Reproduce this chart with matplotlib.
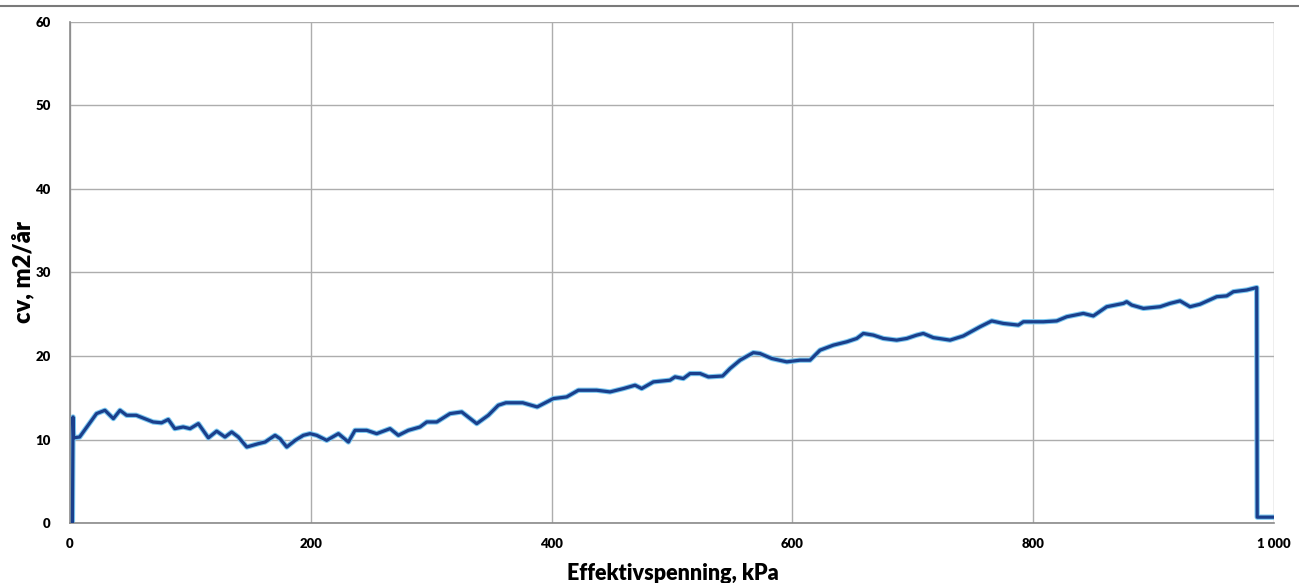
import matplotlib.pyplot as plt
from matplotlib.lines import Line2D

# cv vs effective stress
stress_kpa = [2, 2.5, 3, 8, 15, 22, 29, 36, 41.5, 47, 55, 62, 69, 76, 81.6,
              87, 94, 99.7, 106.6, 114.9, 121.8, 128.7, 134.3, 139.8, 146.8,
              156.4, 162, 170.3, 174.4, 180, 187, 193.8, 199.3, 204.9, 213.2,
              222.9, 231.2, 236.7, 246.4, 254.7, 265.8, 272.7, 281, 290.7,
              296.3, 304.6, 315.6, 325.3, 337.8, 347.4, 355.7, 362, 376, 388,
              401.4, 412.5, 422.2, 437.4, 448.5, 459.6, 469.3, 474.8, 484.5,
              498.3, 502.5, 509.4, 515, 523.3, 530.2, 542, 548.2, 556.5,
              567.5, 573, 582.8, 595.3, 606.3, 614.6, 622.9, 634, 645.1,
              653.4, 658.9, 667.2, 675.5, 686.6, 694.9, 703.2, 708.7, 717,
              730.9, 741.9, 755.8, 765.5, 775.2, 787.6, 791.8, 808.4, 819.5,
              827.8, 841.6, 849.9, 861, 874.9, 877.6, 881.8, 891.5, 905.3,
              913.6, 921.9, 930.2, 938.5, 952.4, 960.7, 966.2, 977.3, 985.6,
              986, 1000]
cv_m2_per_year = [0.0, 12.7, 10.2, 10.3, 11.7, 13.1, 13.5, 12.5, 13.5, 12.9,
                  12.9, 12.5, 12.1, 12.0, 12.4, 11.3, 11.5, 11.3, 11.9, 10.2,
                  11.0, 10.3, 10.9, 10.3, 9.1, 9.5, 9.7, 10.5, 10.1, 9.1, 9.9,
                  10.5, 10.7, 10.5, 9.9, 10.7, 9.7, 11.1, 11.1, 10.7, 11.3,
                  10.5, 11.1, 11.5, 12.1, 12.1, 13.1, 13.3, 11.9, 12.9, 14.1,
                  14.4, 14.4, 13.9, 14.9, 15.1, 15.9, 15.9, 15.7, 16.1, 16.5,
                  16.1, 16.9, 17.1, 17.5, 17.3, 17.9, 17.9, 17.5, 17.6, 18.5,
                  19.5, 20.4, 20.3, 19.7, 19.3, 19.5, 19.5, 20.7, 21.3, 21.7,
                  22.1, 22.7, 22.5, 22.1, 21.9, 22.1, 22.5, 22.7, 22.2, 21.9,
                  22.4, 23.5, 24.2, 23.9, 23.7, 24.1, 24.1, 24.2, 24.7, 25.1,
                  24.8, 25.9, 26.3, 26.5, 26.1, 25.7, 25.9, 26.3, 26.6, 25.9,
                  26.2, 27.1, 27.2, 27.7, 27.9, 28.2, 0.7, 0.7]

x_ticks = [0, 200, 400, 600, 800, 1000]
x_tick_labels = ["0", "200", "400", "600", "800", "1 000"]
y_ticks = [0, 10, 20, 30, 40, 50, 60]

plt.rcParams['font.family'] = ['Lato', 'DejaVu Sans']

fig = plt.figure(figsize=(12.99, 5.83), dpi=100)
ax = fig.add_axes([0.0539, 0.1029, 0.9269, 0.8594])

grid_col = '#adadad'
ax.plot(stress_kpa, cv_m2_per_year, color='#7cc8f0', lw=3.8, solid_joinstyle='round', zorder=2)
ax.plot(stress_kpa, cv_m2_per_year, color='#1a3f8c', lw=2.3, solid_joinstyle='round', zorder=3)

ax.set_xlim(0, 1000)
ax.set_ylim(0, 60)
ax.set_xticks(x_ticks)
ax.set_xticklabels(x_tick_labels)
ax.set_yticks(y_ticks)
ax.grid(True, color=grid_col, lw=1.0)
ax.set_axisbelow(True)
ax.tick_params(length=0, labelsize=9.5)
ax.tick_params(axis='y', pad=14)
ax.tick_params(axis='x', pad=11)
for lab in ax.get_xticklabels() + ax.get_yticklabels():
    lab.set_fontweight('heavy')
for side in ['top', 'right']:
    ax.spines[side].set_visible(False)
for side in ['left', 'bottom']:
    ax.spines[side].set_color('#8a8a8a')
    ax.spines[side].set_linewidth(1.2)

ax.set_xlabel('Effektivspenning, kPa', fontsize=15.5, fontweight='heavy')
ax.xaxis.set_label_coords(0.501, -0.08)
ax.set_ylabel('cv, m2/år', fontsize=17, fontweight='heavy')
ax.yaxis.set_label_coords(-0.03, 0.5)

# frame edge along the top of the sheet
fig.add_artist(Line2D([0, 1], [0.99, 0.99], transform=fig.transFigure,
                      color='#7a7a7a', lw=1.5))

fig.savefig('out.png', dpi=100)
